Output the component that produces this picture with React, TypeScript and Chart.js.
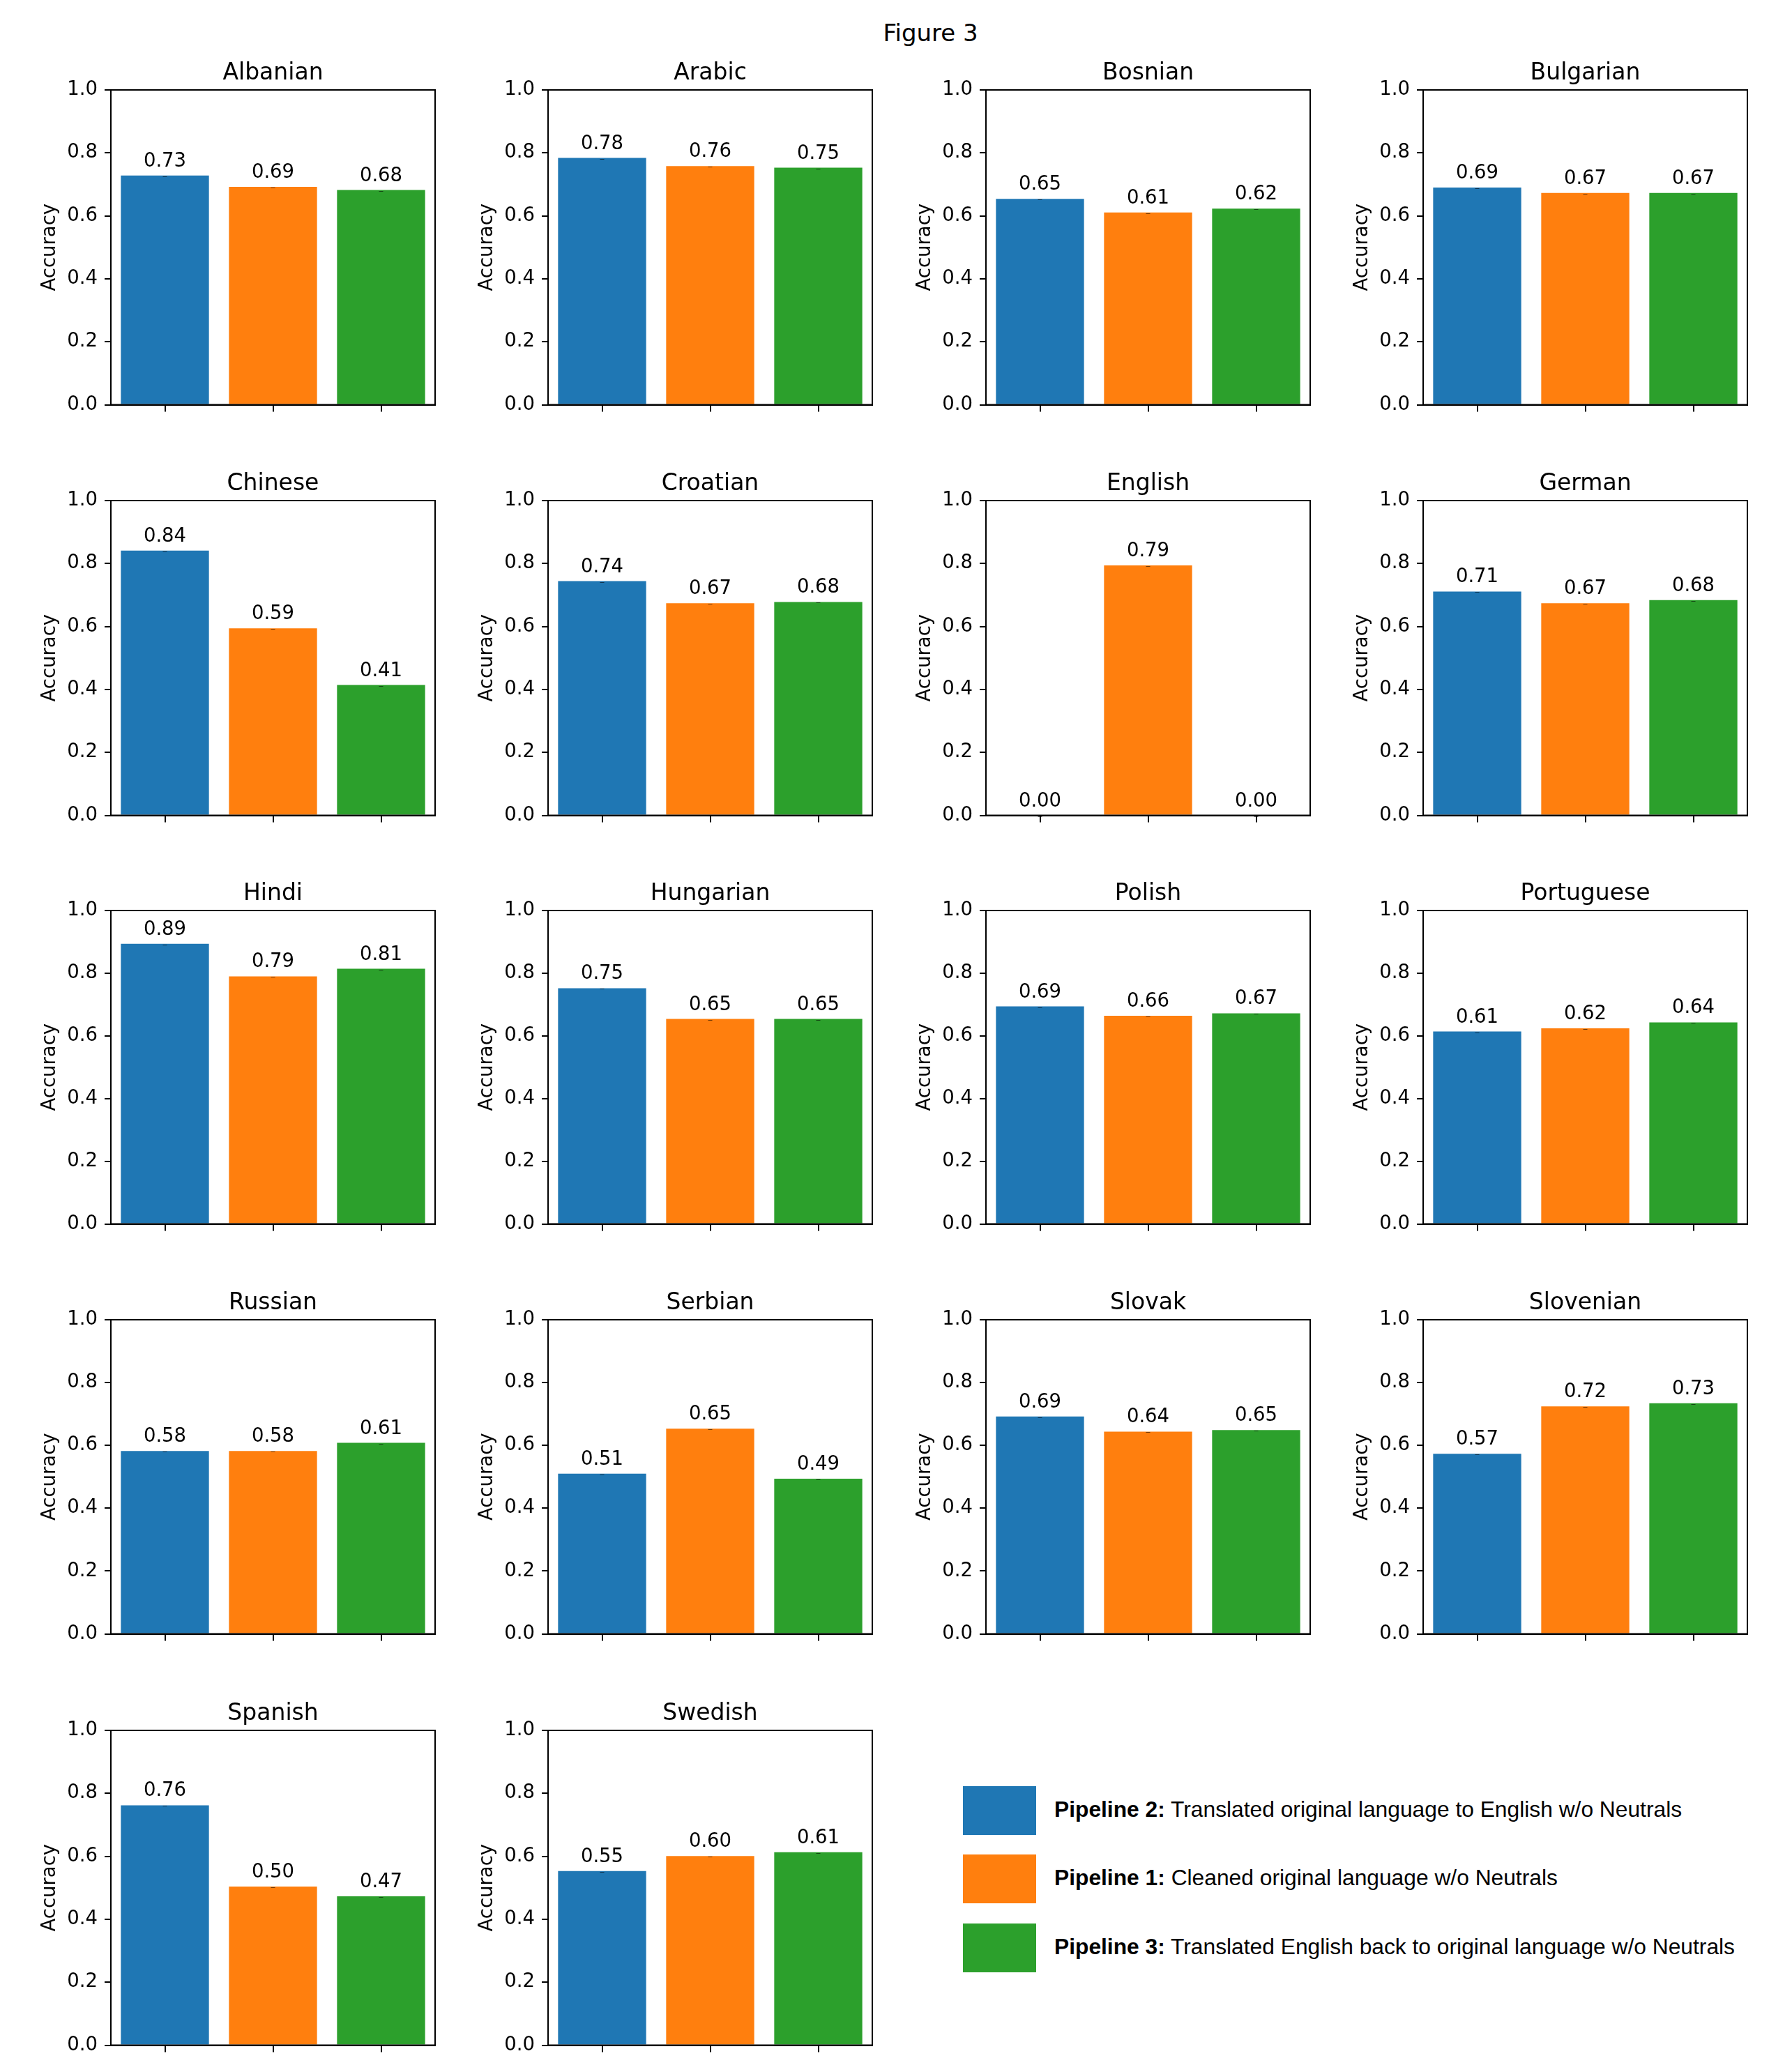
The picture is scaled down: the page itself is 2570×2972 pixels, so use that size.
import React, { useEffect, useRef } from 'react';
import { Chart, registerables } from 'chart.js';

Chart.register(...registerables);

// ---------------- data ----------------
const languages = [
  'Albanian', 'Arabic', 'Bosnian', 'Bulgarian',
  'Chinese', 'Croatian', 'English', 'German',
  'Hindi', 'Hungarian', 'Polish', 'Portuguese',
  'Russian', 'Serbian', 'Slovak', 'Slovenian',
  'Spanish', 'Swedish',
];
const pipeline2 = [0.728, 0.784, 0.654, 0.690, 0.841, 0.744, 0.0, 0.711, 0.894, 0.752, 0.694, 0.614, 0.582, 0.510, 0.692, 0.573, 0.762, 0.553];
const pipeline1 = [0.692, 0.758, 0.611, 0.673, 0.594, 0.674, 0.794, 0.674, 0.790, 0.654, 0.664, 0.624, 0.582, 0.653, 0.644, 0.724, 0.504, 0.601];
const pipeline3 = [0.682, 0.753, 0.623, 0.673, 0.414, 0.678, 0.0, 0.684, 0.814, 0.654, 0.672, 0.643, 0.608, 0.494, 0.649, 0.734, 0.473, 0.613];
const seriesNames = ['Pipeline 2', 'Pipeline 1', 'Pipeline 3'];
const seriesDescriptions = [
  'Translated original language to English w/o Neutrals',
  'Cleaned original language w/o Neutrals',
  'Translated English back to original language w/o Neutrals',
];
const seriesColors = ['#1f77b4', '#ff7f0e', '#2ca02c'];
const yTicks = [0, 0.2, 0.4, 0.6, 0.8, 1.0];
const figureTitle = 'Figure 3';
const yAxisLabel = 'Accuracy';

// ---------------- layout ----------------
const FONT = "'DejaVu Sans', sans-serif";
const LEGEND_FONT = "'Liberation Sans', Arial, sans-serif";
const TICK_SIZE = 27.5;
const TITLE_SIZE = 33;
const colLefts = [159, 786, 1414, 2041];
const rowTops = [129, 718, 1306, 1893, 2482];
const rowHeights = [453, 453, 451, 452, 453];
const PLOT_W = 465;
const PAD_L = 150;
const PAD_R = 12;
const PAD_T = 75;
const PAD_B = 25;

Chart.defaults.font.family = FONT;

const annotatePlugin = (title: string) => ({
  id: 'annotate',
  afterDatasetsDraw(chart: any) {
    const { ctx, chartArea } = chart;
    const { left, right, top, bottom } = chartArea;
    ctx.save();
    // frame (all four spines)
    ctx.strokeStyle = '#000';
    ctx.lineWidth = 2;
    ctx.strokeRect(left, top, right - left, bottom - top);

    const meta = chart.getDatasetMeta(0);
    const data = chart.data.datasets[0].data;
    meta.data.forEach((el: any, i: number) => {
      // tiny error-bar cap
      ctx.beginPath();
      ctx.strokeStyle = 'rgba(0,0,0,0.55)';
      ctx.lineWidth = 1;
      ctx.moveTo(el.x - 3, Math.round(el.y) + 1.5);
      ctx.lineTo(el.x + 3, Math.round(el.y) + 1.5);
      ctx.stroke();
      // value label
      ctx.fillStyle = '#000';
      ctx.font = `${TICK_SIZE}px ${FONT}`;
      ctx.textAlign = 'center';
      ctx.textBaseline = 'alphabetic';
      ctx.fillText(Number(data[i]).toFixed(2), el.x, el.y - 13);
    });

    // subplot title
    ctx.fillStyle = '#000';
    ctx.font = `${TITLE_SIZE}px ${FONT}`;
    ctx.textAlign = 'center';
    ctx.textBaseline = 'alphabetic';
    ctx.fillText(title, (left + right) / 2, top - 15);

    // y label
    ctx.translate(left - 80, (top + bottom) / 2);
    ctx.rotate(-Math.PI / 2);
    ctx.font = `${TICK_SIZE}px ${FONT}`;
    ctx.fillText(yAxisLabel, 0, 0);
    ctx.restore();
  },
});

function SubChart({ index }: { index: number }) {
  const ref = useRef<HTMLCanvasElement | null>(null);
  const row = Math.floor(index / 4);
  const col = index % 4;
  const plotH = rowHeights[row];
  const W = PAD_L + PLOT_W + PAD_R;
  const H = PAD_T + plotH + PAD_B;

  useEffect(() => {
    if (!ref.current) return;
    const values = [pipeline2[index], pipeline1[index], pipeline3[index]];
    const chart = new Chart(ref.current, {
      type: 'bar',
      data: {
        labels: seriesNames,
        datasets: [
          {
            data: values,
            backgroundColor: seriesColors,
            borderWidth: 0,
            barPercentage: 0.815,
            categoryPercentage: 1,
          },
        ],
      },
      options: {
        animation: false,
        responsive: false,
        maintainAspectRatio: false,
        devicePixelRatio: 1,
        layout: { padding: { top: PAD_T, right: PAD_R, left: 0, bottom: 0 } },
        plugins: {
          legend: { display: false },
          tooltip: { enabled: false },
          title: { display: false },
        },
        scales: {
          x: {
            type: 'category',
            offset: true,
            grid: {
              offset: false,
              drawOnChartArea: false,
              drawTicks: true,
              tickLength: 10,
              color: '#000',
              lineWidth: 2,
            },
            border: { display: true, color: '#000', width: 2 },
            ticks: { display: false },
            afterFit: (s: any) => {
              s.height = PAD_B;
            },
          },
          y: {
            type: 'linear',
            min: 0,
            max: 1,
            afterBuildTicks: (s: any) => {
              s.ticks = yTicks.map((v) => ({ value: v }));
            },
            grid: {
              drawOnChartArea: false,
              drawTicks: true,
              tickLength: 9,
              color: '#000',
              lineWidth: 2,
            },
            border: { display: true, color: '#000', width: 2 },
            ticks: {
              padding: 10,
              color: '#000',
              font: { size: TICK_SIZE, family: FONT },
              callback: (v: any) => Number(v).toFixed(1),
            },
            afterFit: (s: any) => {
              s.width = PAD_L;
            },
          },
        },
      } as any,
      plugins: [annotatePlugin(languages[index])],
    });
    return () => chart.destroy();
  }, [index]);

  return (
    <canvas
      ref={ref}
      width={W}
      height={H}
      style={{
        position: 'absolute',
        left: colLefts[col] - PAD_L,
        top: rowTops[row] - PAD_T,
        width: W,
        height: H,
      }}
    />
  );
}

const legendPatchTops = [2562, 2660, 2759];

export default function App() {
  return (
    <div
      style={{
        position: 'absolute',
        left: 0,
        top: 0,
        width: 2570,
        height: 2972,
        background: '#fff',
        overflow: 'hidden',
      }}
    >
      <div
        style={{
          position: 'absolute',
          left: 1334.5 - 500,
          width: 1000,
          top: 29.5,
          textAlign: 'center',
          fontFamily: FONT,
          fontSize: 34,
          lineHeight: '34px',
          color: '#000',
          whiteSpace: 'nowrap',
        }}
      >
        {figureTitle}
      </div>
      {languages.map((_, i) => (
        <SubChart key={i} index={i} />
      ))}
      {seriesNames.map((name, i) => (
        <React.Fragment key={name}>
          <div
            style={{
              position: 'absolute',
              left: 1381,
              top: legendPatchTops[i],
              width: 105,
              height: 70,
              background: seriesColors[i],
            }}
          />
          <div
            style={{
              position: 'absolute',
              left: 1512,
              top: legendPatchTops[i] + 35 - 16 - 2,
              fontFamily: LEGEND_FONT,
              fontSize: 31.75,
              lineHeight: '32px',
              color: '#000',
              whiteSpace: 'nowrap',
            }}
          >
            <b>{name}:</b> {seriesDescriptions[i]}
          </div>
        </React.Fragment>
      ))}
    </div>
  );
}
